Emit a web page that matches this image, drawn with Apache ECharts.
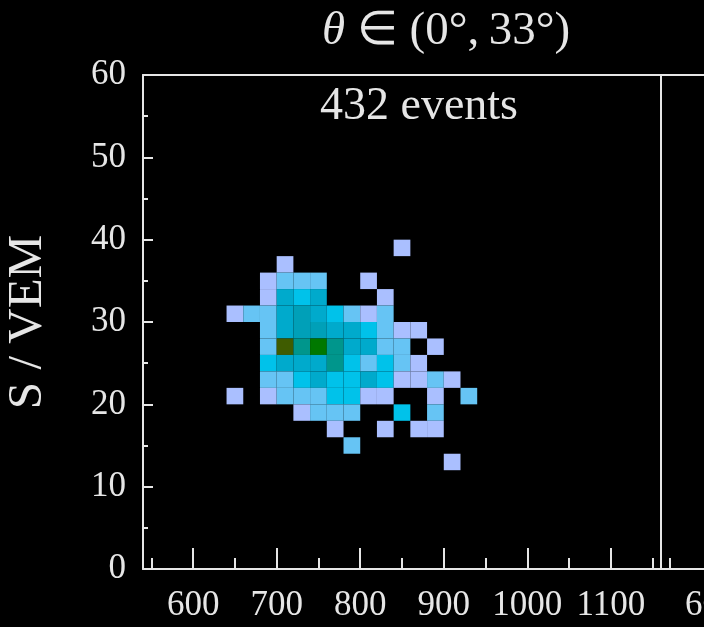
<!DOCTYPE html>
<html>
<head>
<meta charset="utf-8">
<script src="https://cdn.jsdelivr.net/npm/echarts@6/dist/echarts.min.js"></script>
<style>html,body{margin:0;padding:0;background:#000;}#c{width:704px;height:627px;}</style>
</head>
<body>
<div id="c"></div>
<script>
// Histogram bins: lower-left corner (energy bin start, S bin start) and count
const binX = [
  840,
  700,
  680, 700, 720, 740, 800,
  680, 700, 720, 740, 820,
  640, 660, 680, 700, 720, 740, 760, 780, 800, 820,
  680, 700, 720, 740, 760, 780, 800, 820, 840, 860,
  680, 700, 720, 740, 760, 780, 800, 820, 840, 880,
  680, 700, 720, 740, 760, 780, 800, 820, 840, 860,
  680, 700, 720, 740, 760, 780, 800, 820, 840, 860, 880, 900,
  640, 680, 700, 720, 740, 760, 780, 800, 820, 880, 920,
  720, 740, 760, 780, 840, 880,
  760, 820, 860, 880,
  780,
  900
];
const binY = [
  38,
  36,
  34, 34, 34, 34, 34,
  32, 32, 32, 32, 32,
  30, 30, 30, 30, 30, 30, 30, 30, 30, 30,
  28, 28, 28, 28, 28, 28, 28, 28, 28, 28,
  26, 26, 26, 26, 26, 26, 26, 26, 26, 26,
  24, 24, 24, 24, 24, 24, 24, 24, 24, 24,
  22, 22, 22, 22, 22, 22, 22, 22, 22, 22, 22, 22,
  20, 20, 20, 20, 20, 20, 20, 20, 20, 20, 20,
  18, 18, 18, 18, 18, 18,
  16, 16, 16, 16,
  14,
  12
];
const binCount = [
  1,
  1,
  1, 2, 2, 2, 1,
  1, 4, 3, 4, 1,
  1, 2, 2, 4, 5, 4, 3, 2, 1, 2,
  2, 4, 5, 5, 4, 4, 3, 2, 1, 1,
  2, 8, 6, 7, 6, 4, 4, 2, 2, 1,
  3, 4, 4, 4, 6, 3, 2, 3, 2, 1,
  2, 2, 3, 4, 3, 3, 4, 3, 1, 1, 2, 1,
  1, 1, 2, 2, 2, 3, 3, 1, 1, 1, 2,
  1, 2, 2, 2, 3, 2,
  1, 1, 1, 1,
  2,
  1
];
const xBinWidth = 20;
const yBinWidth = 2;
const xMajorTicks = [600, 700, 800, 900, 1000, 1100];
const xMinorTicks = [550, 650, 750, 850, 950, 1050, 1150];
const xRange = [540, 1160];
const yRange = [0, 60];
const titleText = '{i|θ} ∈ (0°,\u200933°)';
const eventsText = '432 events';
const yName = 'S / VEM';
const countColors = ['#aabfff', '#66c4f4', '#00c2ea', '#00aacc', '#00a0b8', '#00968c', '#007800', '#3f5c00'];

const data = binX.map((x, i) => [x, binY[i], binCount[i]]);

const FONT = 'Liberation Serif';
const FG = '#e6e6e6';
const lineStyle = { color: FG, width: 2 };
const plain = v => String(v);

function renderItem(params, api) {
  const x0 = api.value(0), y0 = api.value(1);
  const p = api.coord([x0, y0 + yBinWidth]);
  const s = api.size([xBinWidth, yBinWidth]);
  return {
    type: 'rect',
    shape: { x: p[0], y: p[1], width: s[0], height: s[1] },
    style: { fill: api.visual('color') }
  };
}

function bottomMajor(g) {
  return {
    gridIndex: g, type: 'value', min: xRange[0], max: xRange[1], position: 'bottom',
    axisLine: { show: true, lineStyle }, splitLine: { show: false },
    axisTick: { show: true, inside: true, length: 21, customValues: xMajorTicks, lineStyle },
    axisLabel: { show: true, customValues: xMajorTicks, formatter: plain, hideOverlap: false,
      fontFamily: FONT, fontSize: 35, color: FG, margin: 19 }
  };
}
function bottomMinor(g) {
  return {
    gridIndex: g, type: 'value', min: xRange[0], max: xRange[1], position: 'bottom',
    axisLine: { show: false }, splitLine: { show: false },
    axisTick: { show: true, inside: true, length: 11, customValues: xMinorTicks, lineStyle },
    axisLabel: { show: false }
  };
}
function topLine(g) {
  return {
    gridIndex: g, type: 'value', min: xRange[0], max: xRange[1], position: 'top',
    axisLine: { show: true, lineStyle }, splitLine: { show: false },
    axisTick: { show: false }, axisLabel: { show: false }
  };
}
function yLineOnly(g, pos) {
  return {
    gridIndex: g, type: 'value', min: yRange[0], max: yRange[1], position: pos,
    axisLine: { show: true, lineStyle }, splitLine: { show: false },
    axisTick: { show: false }, axisLabel: { show: false }
  };
}

const chart = echarts.init(document.getElementById('c'));
chart.setOption({
  backgroundColor: '#000',
  animation: false,
  title: [
    {
      text: titleText, left: 322, top: 8, padding: 0,
      textStyle: { fontFamily: FONT, fontSize: 47, fontWeight: 'normal', color: FG,
        rich: { i: { fontFamily: FONT, fontSize: 47, fontStyle: 'italic', color: FG } } }
    },
    {
      text: eventsText, left: 320, top: 84, padding: 0,
      textStyle: { fontFamily: FONT, fontSize: 46, fontWeight: 'normal', color: FG }
    }
  ],
  grid: [
    { left: 143, top: 75, width: 518, height: 494, containLabel: false, outerBoundsMode: 'none' },
    { left: 661, top: 75, width: 518, height: 494, containLabel: false, outerBoundsMode: 'none' }
  ],
  xAxis: [bottomMajor(0), bottomMinor(0), topLine(0), bottomMajor(1), bottomMinor(1), topLine(1)],
  yAxis: [
    {
      gridIndex: 0, type: 'value', min: yRange[0], max: yRange[1], interval: 10, position: 'left',
      name: yName, nameLocation: 'middle', nameRotate: 90, nameGap: 90,
      nameTextStyle: { fontFamily: FONT, fontSize: 49, color: FG },
      axisLine: { show: true, lineStyle }, splitLine: { show: false },
      axisTick: { show: true, inside: true, length: 10, lineStyle },
      minorTick: { show: true, splitNumber: 2, length: 5, lineStyle },
      minorSplitLine: { show: false },
      axisLabel: { fontFamily: FONT, fontSize: 35, color: FG, margin: 17, formatter: plain }
    },
    yLineOnly(0, 'right'),
    yLineOnly(1, 'left')
  ],
  visualMap: {
    type: 'piecewise', show: false, dimension: 2, seriesIndex: 0,
    pieces: countColors.map((c, i) => ({ value: i + 1, color: c }))
  },
  series: [{
    type: 'custom', xAxisIndex: 0, yAxisIndex: 0,
    renderItem: renderItem,
    encode: { x: 0, y: 1 },
    data: data
  }]
});
</script>
</body>
</html>
